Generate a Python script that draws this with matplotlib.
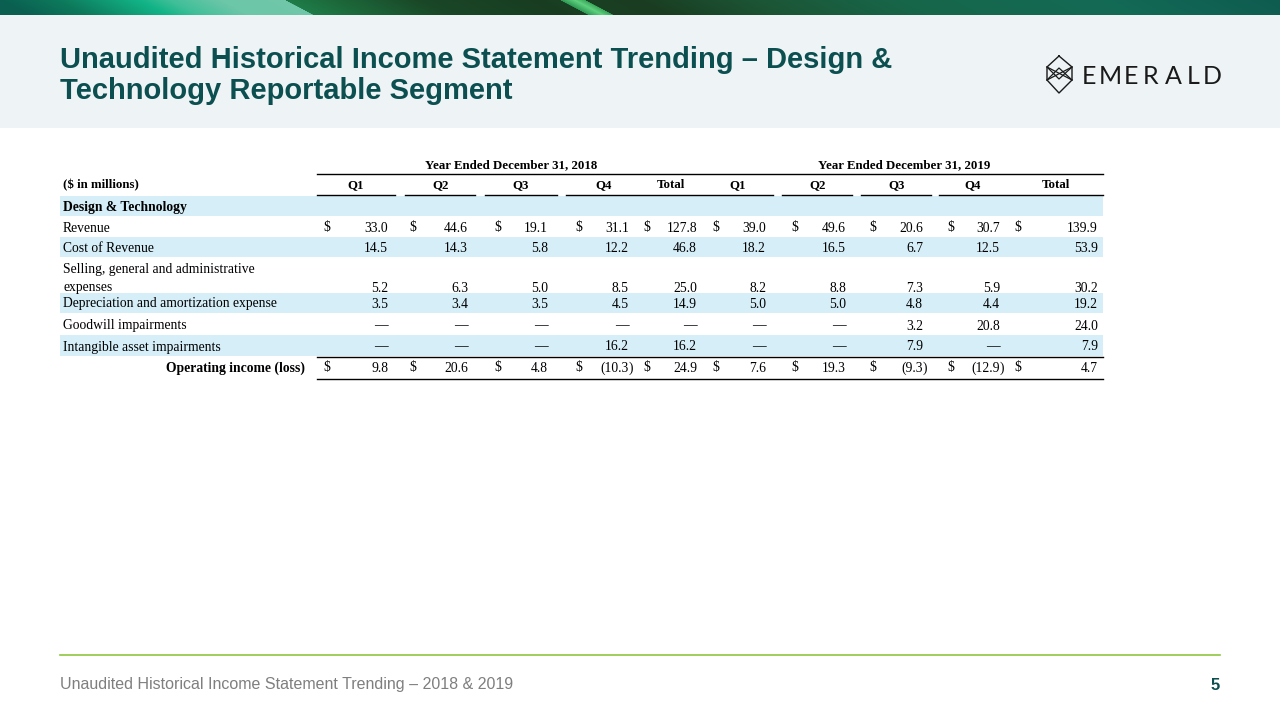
import matplotlib
matplotlib.use("Agg")
import matplotlib.pyplot as plt
import numpy as np
from matplotlib.patches import Rectangle

# ---- data ----
title_lines = ["Unaudited Historical Income Statement Trending – Design &",
               "Technology Reportable Segment"]
footer_text = "Unaudited Historical Income Statement Trending – 2018 & 2019"
page_number = "5"
year_headers = ["Year Ended December 31, 2018", "Year Ended December 31, 2019"]
col_headers = ["Q1", "Q2", "Q3", "Q4", "Total", "Q1", "Q2", "Q3", "Q4", "Total"]
unit_label = "($ in millions)"
section_label = "Design & Technology"

row_labels = [
    "Revenue",
    "Cost of Revenue",
    "Selling, general and administrative\nexpenses",
    "Depreciation and amortization expense",
    "Goodwill impairments",
    "Intangible asset impairments",
    "Operating income (loss)",
]
revenue = [33.0, 44.6, 19.1, 31.1, 127.8, 39.0, 49.6, 20.6, 30.7, 139.9]
cost_of_revenue = [14.5, 14.3, 5.8, 12.2, 46.8, 18.2, 16.5, 6.7, 12.5, 53.9]
sga = [5.2, 6.3, 5.0, 8.5, 25.0, 8.2, 8.8, 7.3, 5.9, 30.2]
depreciation = [3.5, 3.4, 3.5, 4.5, 14.9, 5.0, 5.0, 4.8, 4.4, 19.2]
goodwill = [None, None, None, None, None, None, None, 3.2, 20.8, 24.0]
intangible = [None, None, None, 16.2, 16.2, None, None, 7.9, None, 7.9]
operating_income = [9.8, 20.6, 4.8, -10.3, 24.9, 7.6, 19.3, -9.3, -12.9, 4.7]
rows = [revenue, cost_of_revenue, sga, depreciation, goodwill, intangible, operating_income]
dollar_rows = [True, False, False, False, False, False, True]

# ---- layout (pixels) ----
TEAL = "#0c4f50"
BLUE = "#d5eef8"
serif = "Liberation Serif"
fs = 9.8     # body
fh = 9.3     # bold headers
B = 4.5      # centre -> baseline offset

dollar_x = [327, 413, 498, 579, 647, 716, 795, 873, 951, 1018]
value_right = [388, 468, 548, 629, 697, 766, 846, 923, 1000, 1098]
header_cx = [356, 441, 521, 604, 671, 738, 818, 897, 973, 1056]
underline_segs = [(317, 395), (405, 475), (485, 557), (566, 773),
                  (782, 852), (861, 931), (939, 1103)]
row_y = [227, 247, 287, 303, 325, 346, 367]
label_y = [227, 247, 268, 303, 325, 346, 367]
bands = [(196, 216), (237, 257), (293, 313), (335, 356)]

fig = plt.figure(figsize=(12.8, 7.2), dpi=100)
ax = fig.add_axes([0, 0, 1, 1])
ax.set_xlim(0, 1280)
ax.set_ylim(720, 0)
ax.axis("off")

# header background
ax.add_patch(Rectangle((0, 15), 1280, 113, color="#eef4f6", lw=0, zorder=0))

# top gradient banner
H, W = 15, 1280
yy, xx = np.mgrid[0:H, 0:W]
u = xx - 1.9 * yy
stops = [0, 60, 140, 170, 220, 285, 286, 330, 420, 540, 560, 561, 575, 585, 586,
         640, 760, 900, 1100, 1300]
cols = ["#0a5f50", "#0d7a5c", "#12b487", "#3fbf98", "#6cc6a8", "#70c6aa", "#1f7c49",
        "#1d6a3c", "#1a4727", "#183c20", "#1a4023", "#2e9a55", "#5fd07e", "#3aa85c",
        "#1a3f22", "#1a3d21", "#1c5636", "#17664a", "#136a55", "#0e5a50"]
rgb = np.array([matplotlib.colors.to_rgb(c) for c in cols])
img = np.stack([np.interp(u, stops, rgb[:, k]) for k in range(3)], axis=-1)
ax.imshow(img, extent=(0, 1280, 15, 0), aspect="auto", zorder=1)

# title
for i, line in enumerate(title_lines):
    ax.text(60, 60 + 31 * i, line, fontsize=21, fontweight="bold", color=TEAL,
            family="Liberation Sans", ha="left", va="center")

# logo
ink = "#1a1a1a"
ax.plot([1059, 1047, 1047, 1059, 1072, 1072, 1059],
        [56, 67, 80, 93, 80, 67, 56], color=ink, lw=1.0)
ax.plot([1047, 1072], [67, 80], color=ink, lw=0.9)
ax.plot([1072, 1047], [67, 80], color=ink, lw=0.9)
ax.plot([1047, 1059, 1072], [80, 68, 80], color=ink, lw=0.9)
ax.plot([1047, 1059, 1072], [67, 79, 67], color=ink, lw=0.9)
for ch, cx in zip("EMERALD", [1089, 1110, 1131, 1151, 1173, 1193, 1212]):
    ax.text(cx, 76, ch, fontsize=18, family="Lato",
            color=ink, ha="center", va="center")

# table bands
for y0, y1 in bands:
    ax.add_patch(Rectangle((60, y0), 1043, y1 - y0, color=BLUE, lw=0, zorder=0))

# header rows
ax.text(511, 164 + B, year_headers[0], fontsize=fh, fontweight="bold", family=serif,
        ha="center", va="baseline")
ax.text(904, 164 + B, year_headers[1], fontsize=fh, fontweight="bold", family=serif,
        ha="center", va="baseline")
ax.plot([317, 1103], [174, 174], color="black", lw=1.0)
ax.text(63, 184 + B, unit_label, fontsize=fh, fontweight="bold", family=serif,
        ha="left", va="baseline")
for cx, h in zip(header_cx, col_headers):
    ax.text(cx, 184 + B, h, fontsize=fh, fontweight="bold", family=serif,
            ha="center", va="baseline")
for x0, x1 in underline_segs:
    ax.plot([x0, x1], [194.5, 194.5], color="black", lw=1.0)
ax.text(63, 206 + B, section_label, fontsize=fs, fontweight="bold", family=serif,
        ha="left", va="baseline")

# body rows
for r, (label, vals) in enumerate(zip(row_labels, rows)):
    last = r == len(rows) - 1
    if last:
        ax.text(305, label_y[r] + B, label, fontsize=fs, fontweight="bold",
                family=serif, ha="right", va="baseline")
    else:
        for k, part in enumerate(label.split("\n")):
            ax.text(63, label_y[r] + B + 19 * k, part, fontsize=fs, family=serif,
                    ha="left", va="baseline")
    y = row_y[r] + B
    for c, v in enumerate(vals):
        if dollar_rows[r]:
            ax.text(dollar_x[c], y, "$", fontsize=fs, family=serif,
                    ha="center", va="baseline")
        if v is None:
            ax.text(value_right[c], y, "—", fontsize=fs, family=serif,
                    ha="right", va="baseline")
        elif v < 0:
            ax.text(value_right[c], y, f"({abs(v):.1f}", fontsize=fs, family=serif,
                    ha="right", va="baseline")
            ax.text(value_right[c], y, ")", fontsize=fs, family=serif,
                    ha="left", va="baseline")
        else:
            ax.text(value_right[c], y, f"{v:.1f}", fontsize=fs, family=serif,
                    ha="right", va="baseline")

ax.plot([317, 1103], [356.5, 356.5], color="black", lw=1.0)
ax.plot([317, 1103], [378.5, 378.5], color="black", lw=1.0)

# footer
ax.plot([60, 1220], [655, 655], color="#8dc63f", lw=1.2)
ax.text(60, 685, footer_text, fontsize=11.5, color="#7f7f7f",
        family="Liberation Sans", ha="left", va="center")
ax.text(1220, 685, page_number, fontsize=12, fontweight="bold", color=TEAL,
        family="Liberation Sans", ha="right", va="center")

fig.savefig("out.png", dpi=100)
